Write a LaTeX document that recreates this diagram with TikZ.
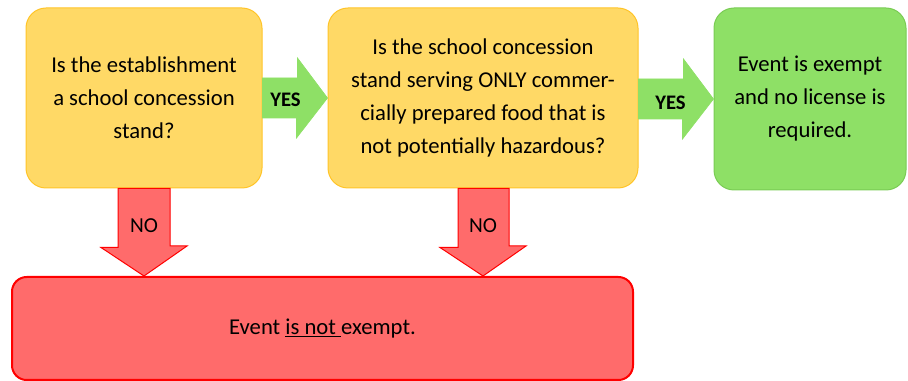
\documentclass[tikz,border=0pt]{standalone}
\usepackage{fontspec}
\setmainfont{Carlito}
\usetikzlibrary{calc}

\definecolor{qfill}{RGB}{255,217,102}
\definecolor{qline}{RGB}{255,196,40}
\definecolor{okfill}{RGB}{142,224,102}
\definecolor{okline}{RGB}{122,204,84}
\definecolor{nofill}{RGB}{255,107,107}
\definecolor{noline}{RGB}{255,0,0}

\tikzset{
  question/.style={draw=qline, fill=qfill, line width=0.75pt, rounded corners=15pt,
    minimum height=135pt, align=center, inner sep=0pt},
  exempt/.style={draw=okline, fill=okfill, line width=0.75pt, rounded corners=15pt,
    minimum width=144pt, minimum height=136.5pt, align=center, inner sep=0pt},
  notexempt/.style={draw=noline, fill=nofill, line width=1.5pt, rounded corners=11pt,
    minimum width=465.75pt, minimum height=77.25pt, inner sep=0pt},
  yesarrow/.style={fill=okfill, draw=okfill, line width=0.5pt},
  noarrow/.style={fill=nofill, draw=noline, line width=0.75pt},
  yeslabel/.style={font=\fontsize{15.5}{18}\selectfont\bfseries},
  nolabel/.style={font=\fontsize{16}{18}\selectfont}
}

\begin{document}
\begin{tikzpicture}[x=0.75pt,y=0.75pt,yscale=-1,xscale=1,font=\fontsize{17}{24.75}\selectfont]
\useasboundingbox (0,0) rectangle (908,381);

% questions
\node[question, minimum width=177pt] (q1) at (144,98) {Is the establishment\\a school concession\\stand?};
\node[question, minimum width=232.5pt] (q2) at (483,98) {Is the school concession\\stand serving ONLY commer-\\cially prepared food that is\\not potentially hazardous?};

% outcomes
\node[exempt] (ok) at (810,99) {Event is exempt\\and no license is\\required.};
\node[notexempt] (no) at (322.5,328.5) {Event \underline{is not\ }exempt.};

% yes arrows
\draw[yesarrow] ($(q1.east)+(0,-20)$) -- ++(35,0) -- ++(0,-20) -- (q2.west) -- ++(-31,40) -- ++(0,-20) -- ($(q1.east)+(0,20)$) -- cycle;
\node[yeslabel] (y1) at ($(q1.east)+(23,2)$) {YES};

\draw[yesarrow] ($(q2.east)+(0,-19)$) -- ++(45,0) -- ++(0,-20) -- (ok.west) -- ++(-31,40) -- ++(0,-20) -- ($(q2.east)+(0,21)$) -- cycle;
\node[yeslabel] (y2) at ($(q2.east)+(32,5)$) {YES};

% no arrows
\draw[noarrow] ($(q1.south)+(-26,0)$) -- ++(0,59) -- ++(-17,0) -- (q1.south |- no.north) -- ++(43,-30) -- ++(-17,0) -- ($(q1.south)+(26,0)$) -- cycle;
\node[nolabel] (n1) at ($(q1.south)+(0,37)$) {NO};

\draw[noarrow] ($(q2.south)+(-25,0)$) -- ++(0,59) -- ++(-18,0) -- (q2.south |- no.north) -- ++(43,-30) -- ++(-17,0) -- ($(q2.south)+(26,0)$) -- cycle;
\node[nolabel] (n2) at ($(q2.south)+(0,37)$) {NO};

\end{tikzpicture}
\end{document}
